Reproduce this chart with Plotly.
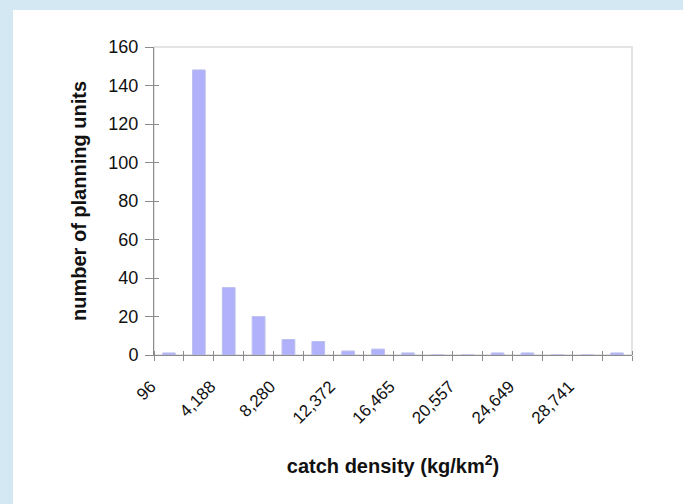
import plotly.graph_objects as go

# Histogram of catch density (kg/km^2) per planning unit
counts = [1, 148, 35, 20, 8, 7, 2, 3, 1, 0, 0, 1, 1, 0, 0, 1]
tick_labels = ["96", "4,188", "8,280", "12,372", "16,465", "20,557", "24,649", "28,741"]
y_ticks = [0, 20, 40, 60, 80, 100, 120, 140, 160]

positions = list(range(len(counts)))
label_positions = positions[::2][:len(tick_labels)]
boundaries = [p - 0.5 for p in positions] + [positions[-1] + 0.5]

FONT = "Liberation Sans, Arial, sans-serif"
AXIS_GREY = "#8c8c8c"
FRAME_BLUE = "#d3e8f3"

fig = go.Figure()
fig.add_trace(go.Bar(
    x=positions, y=counts, width=0.42,
    marker=dict(color="#b0b0fb", line=dict(color="#9797e6", width=1)),
    hoverinfo="x+y",
))

fig.update_layout(
    width=683, height=504,
    margin=dict(l=154, r=51, t=47, b=149),
    paper_bgcolor="white",
    plot_bgcolor="white",
    showlegend=False,
    font=dict(family=FONT, size=18, color="#111111"),
    xaxis=dict(
        range=[-0.5, len(counts) - 0.5],
        tickmode="array", tickvals=label_positions, ticktext=tick_labels,
        tickangle=-45, ticks="", ticklabelstandoff=14, ticklabelshift=-18,
        tickfont=dict(size=17),
        minor=dict(tickmode="array", tickvals=boundaries, ticks="outside",
                   ticklen=5, tickcolor=AXIS_GREY, tickwidth=1),
        showline=True, linecolor=AXIS_GREY, linewidth=1,
        showgrid=False, zeroline=False,
        title=dict(text="<b>catch density (kg/km<sup>2</sup>)</b>",
                   font=dict(size=20), standoff=32),
    ),
    yaxis=dict(
        range=[0, 160], tickmode="array", tickvals=y_ticks,
        ticks="outside", ticklen=8, tickcolor=AXIS_GREY,
        ticklabelstandoff=3,
        showline=True, linecolor=AXIS_GREY, linewidth=1,
        showgrid=False, zeroline=False,
        tickfont=dict(size=18),
        title=dict(text="<b>number of planning units</b>",
                   font=dict(size=20), standoff=16),
    ),
    xaxis2=dict(
        overlaying="x", matches="x", anchor="y", showticklabels=False,
        tickmode="array", tickvals=label_positions, ticks="",
        minor=dict(tickmode="array", tickvals=boundaries, ticks="inside",
                   ticklen=4, tickcolor=AXIS_GREY, tickwidth=1),
        showline=False, showgrid=False, zeroline=False,
    ),
    yaxis2=dict(
        overlaying="y", matches="y", anchor="x", showticklabels=False,
        tickmode="array", tickvals=y_ticks, ticks="inside", ticklen=5,
        tickcolor=AXIS_GREY,
        showline=False, showgrid=False, zeroline=False,
    ),
    shapes=[
        # light-blue frame strips (left and top) of the page
        dict(type="rect", xref="paper", yref="paper",
             xsizemode="pixel", xanchor=0, x0=-400, x1=-141,
             y0=-3, y1=4,
             fillcolor=FRAME_BLUE, line=dict(width=0), layer="below"),
        dict(type="rect", xref="paper", yref="paper",
             ysizemode="pixel", yanchor=1, y0=37, y1=400,
             x0=-3, x1=4,
             fillcolor=FRAME_BLUE, line=dict(width=0), layer="below"),
        # light frame around plot area
        dict(type="rect", xref="x domain", yref="y domain",
             x0=0, x1=1, y0=0, y1=1,
             line=dict(color="#dcdcdc", width=1.5), layer="below"),
    ],
)

# invisible companion trace so the overlay axes are rendered
fig.add_trace(go.Bar(x=positions, y=counts, xaxis="x2", yaxis="y2",
                     width=0.42, marker=dict(color="rgba(0,0,0,0)"),
                     hoverinfo="skip"))

fig.write_html(
    "out.html",
    config={"displayModeBar": False},
    post_script="document.body.style.margin='0px';document.body.style.overflow='hidden';",
)
